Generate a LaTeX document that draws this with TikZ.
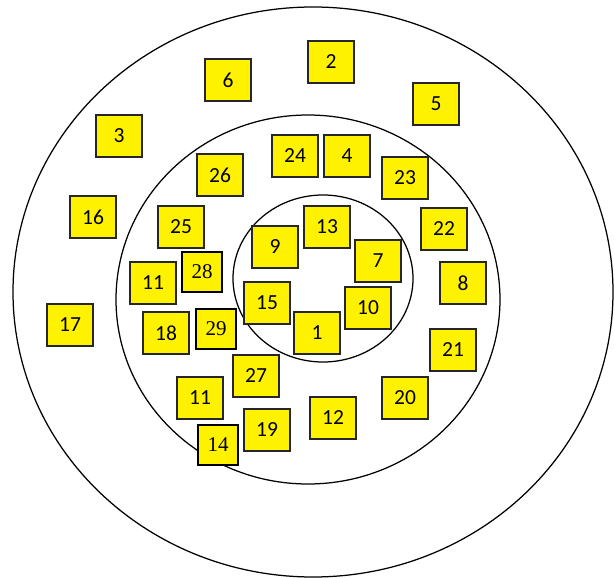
\documentclass[tikz,border=0pt]{standalone}
\usepackage{fontspec}
\setmainfont{Carlito}
\newfontfamily\serifnum{Liberation Serif}
\begin{document}
\begin{tikzpicture}[x=1pt,y=-1pt,
  ring/.style={draw=black,line width=1.25pt},
  sbox/.style={draw=black!85,line width=1.3pt,fill=yellow,inner sep=0pt,
    minimum width=46pt,minimum height=42pt,font=\fontsize{21.5}{21.5}\selectfont},
  tbox/.style={draw=black,line width=1.6pt,fill=yellow,inner sep=0pt,
    minimum width=39.5pt,minimum height=39.5pt}]
\useasboundingbox (0,0) rectangle (614,578);
\draw[ring] (313,292) ellipse [x radius=300, y radius=285];
\draw[ring] (308,299.5) ellipse [x radius=192, y radius=184.5];
\draw[ring] (323,278.5) ellipse [x radius=90, y radius=83.5];
\node[sbox] (n2) at (331,62) {2};
\node[sbox] (n6) at (228,80) {6};
\node[sbox] (n5) at (436,104) {5};
\node[sbox] (n3) at (119,136) {3};
\node[sbox] (n24) at (295,156) {24};
\node[sbox] (n4) at (347,156) {4};
\node[sbox] (n26) at (220,175) {26};
\node[sbox] (n23) at (405,178) {23};
\node[sbox] (n16) at (93,217) {16};
\node[sbox] (n25) at (181,227) {25};
\node[sbox] (n13) at (327,227) {13};
\node[sbox] (n22) at (444,229) {22};
\node[sbox] (n9) at (275,247) {9};
\node[sbox] (n7) at (378,261) {7};
\node[sbox] (n11a) at (153,283) {11};
\node[tbox] (n28) at (202,272) {\serifnum\fontsize{21}{21}\selectfont 28};
\node[sbox] (n8) at (463,283) {8};
\node[sbox] (n15) at (267,303) {15};
\node[sbox] (n10) at (368,308) {10};
\node[sbox] (n17) at (70,325) {17};
\node[sbox] (n18) at (166,333) {18};
\node[tbox] (n29) at (216,329) {\serifnum\fontsize{21}{21}\selectfont 29};
\node[sbox] (n1) at (317,333) {1};
\node[sbox] (n21) at (453,350) {21};
\node[sbox] (n27) at (256,376) {27};
\node[sbox] (n11b) at (200,398) {11};
\node[sbox] (n20) at (405,398) {20};
\node[sbox] (n12) at (333,418) {12};
\node[sbox] (n19) at (267,430) {19};
\node[tbox] (n14) at (218,445) {\serifnum\fontsize{21}{21}\selectfont 14};
\end{tikzpicture}
\end{document}
